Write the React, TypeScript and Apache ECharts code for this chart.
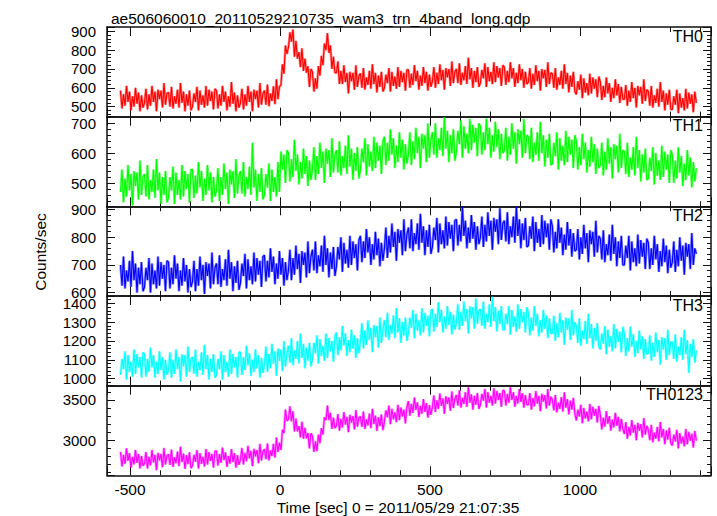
import React, { useEffect, useRef } from 'react';
import * as echarts from 'echarts';

const TITLE = 'ae506060010_20110529210735_wam3_trn_4band_long.qdp';
const X_LABEL = 'Time [sec] 0 = 2011/05/29 21:07:35';
const Y_LABEL = 'Counts/sec';
const BANDS = ['TH0', 'TH1', 'TH2', 'TH3', 'TH0123'];
const COLORS = ['#ff0000', '#00ff00', '#0000ff', '#00ffff', '#ff00ff'];

// time grid of the light curve bins (seconds from 2011/05/29 21:07:35)
const T_START = -532;
const T_STEP = 5;

const X_RANGE = [-577, 1437];
const X_TICK = 500;

// [min, max, major tick step] of each panel's count-rate axis
const Y_RANGES = [
  [447, 923, 100],
  [422, 722, 100],
  [588, 912, 100],
  [963, 1439, 100],
  [2566, 3676, 500],
];

const TH0 = [
  585, 490, 565, 505, 610, 525, 580, 480, 555, 500, 600, 515, 575, 475, 560, 495,
  520, 595, 485, 565, 505, 610, 525, 580, 475, 590, 540, 585, 495, 625, 510, 570,
  575, 500, 605, 490, 555, 515, 590, 495, 625, 520, 580, 475, 565, 505, 585, 480,
  500, 570, 525, 605, 480, 585, 510, 560, 495, 610, 505, 590, 530, 580, 485, 595,
  585, 490, 565, 505, 610, 525, 580, 480, 555, 500, 630, 515, 575, 475, 560, 495,
  520, 595, 485, 565, 505, 610, 525, 580, 475, 590, 540, 585, 495, 625, 510, 570,
  585, 510, 617, 502, 570, 530, 608, 513, 645, 540, 605, 615, 725, 675, 825, 780,
  815, 895, 845, 910, 765, 850, 755, 790, 710, 810, 690, 755, 680, 715, 605, 700,
  685, 580, 650, 595, 715, 665, 770, 720, 835, 800, 890, 785, 825, 700, 765, 680,
  680, 740, 620, 690, 620, 720, 630, 680, 570, 685, 635, 680, 590, 720, 605, 665,
  675, 600, 705, 590, 655, 615, 690, 595, 725, 620, 680, 575, 665, 605, 685, 580,
  600, 670, 625, 705, 580, 685, 610, 660, 595, 710, 605, 690, 630, 680, 585, 695,
  695, 600, 675, 615, 720, 635, 690, 590, 665, 610, 710, 625, 685, 585, 670, 605,
  635, 710, 600, 680, 620, 725, 640, 695, 590, 705, 655, 700, 610, 740, 625, 685,
  700, 625, 730, 615, 680, 640, 715, 620, 760, 645, 705, 600, 690, 630, 710, 605,
  625, 695, 650, 730, 605, 710, 635, 685, 620, 735, 630, 715, 655, 705, 610, 720,
  710, 615, 690, 630, 735, 650, 705, 605, 680, 625, 725, 640, 700, 600, 685, 620,
  630, 705, 595, 675, 615, 720, 635, 690, 585, 700, 650, 695, 605, 735, 620, 680,
  675, 600, 705, 590, 655, 615, 690, 595, 725, 620, 680, 575, 665, 605, 685, 580,
  565, 635, 590, 670, 545, 650, 575, 625, 560, 675, 570, 655, 595, 645, 550, 660,
  630, 535, 610, 550, 655, 570, 625, 525, 600, 545, 645, 560, 620, 520, 605, 540,
  540, 615, 505, 585, 525, 630, 545, 600, 495, 610, 560, 605, 515, 645, 530, 590,
  580, 505, 610, 495, 560, 520, 595, 500, 630, 525, 585, 480, 570, 510, 590, 485,
  485, 555, 510, 590, 465, 570, 495, 545, 480, 595, 490, 575, 515, 565, 470, 580,
  520,
];

const TH1 = [
  470, 545, 435, 515, 455, 560, 475, 530, 425, 540, 490, 535, 445, 575, 460, 520,
  530, 455, 560, 445, 510, 470, 545, 450, 580, 475, 535, 430, 520, 460, 540, 435,
  450, 520, 475, 555, 430, 535, 460, 510, 445, 560, 455, 540, 480, 530, 435, 545,
  545, 450, 525, 465, 570, 485, 540, 440, 515, 460, 560, 475, 535, 435, 520, 455,
  475, 550, 440, 520, 460, 565, 480, 535, 430, 545, 495, 540, 450, 580, 465, 525,
  540, 465, 570, 455, 520, 480, 555, 460, 635, 485, 545, 440, 530, 470, 550, 445,
  460, 530, 485, 565, 440, 545, 470, 520, 455, 570, 470, 605, 545, 595, 500, 610,
  600, 505, 580, 520, 645, 540, 595, 495, 570, 515, 615, 530, 590, 490, 575, 510,
  545, 620, 510, 590, 530, 635, 550, 605, 500, 615, 565, 610, 520, 650, 535, 595,
  610, 535, 640, 525, 590, 550, 625, 530, 660, 555, 615, 510, 600, 540, 620, 515,
  545, 615, 570, 650, 525, 630, 555, 605, 540, 655, 550, 635, 575, 625, 530, 640,
  655, 560, 635, 575, 680, 595, 650, 550, 625, 570, 670, 585, 645, 545, 630, 565,
  595, 670, 560, 640, 580, 685, 600, 655, 550, 665, 615, 660, 570, 700, 585, 645,
  670, 595, 700, 585, 650, 610, 685, 590, 720, 615, 675, 570, 660, 600, 680, 575,
  605, 675, 630, 710, 585, 690, 615, 665, 600, 715, 610, 695, 635, 685, 590, 700,
  690, 595, 670, 610, 715, 630, 685, 585, 660, 605, 705, 620, 680, 580, 665, 600,
  610, 685, 575, 655, 595, 700, 615, 670, 565, 680, 630, 675, 585, 715, 600, 660,
  655, 580, 685, 570, 635, 595, 670, 575, 705, 600, 660, 555, 645, 585, 665, 560,
  565, 635, 590, 670, 545, 650, 575, 625, 560, 675, 570, 655, 595, 645, 550, 660,
  640, 545, 620, 560, 665, 580, 635, 535, 610, 555, 655, 570, 630, 530, 615, 550,
  560, 635, 525, 605, 545, 650, 565, 620, 515, 630, 580, 625, 535, 665, 550, 610,
  605, 530, 635, 520, 585, 545, 620, 525, 655, 550, 610, 505, 595, 535, 615, 510,
  515, 585, 540, 620, 495, 600, 525, 575, 510, 625, 520, 605, 545, 595, 500, 610,
  595, 500, 575, 515, 620, 535, 590, 490, 565, 510, 610, 525, 585, 485, 570, 505,
  550,
];

const TH2 = [
  700, 625, 730, 615, 680, 640, 715, 620, 750, 645, 705, 600, 690, 630, 710, 605,
  620, 690, 645, 725, 600, 705, 630, 680, 615, 730, 625, 710, 650, 700, 605, 715,
  710, 615, 690, 630, 735, 650, 705, 605, 680, 625, 725, 640, 700, 600, 685, 620,
  640, 715, 605, 685, 625, 730, 645, 700, 595, 710, 660, 705, 615, 745, 630, 690,
  705, 630, 735, 620, 685, 645, 720, 625, 755, 650, 710, 605, 695, 635, 715, 610,
  635, 705, 660, 740, 615, 720, 645, 695, 630, 745, 640, 725, 665, 715, 620, 730,
  735, 640, 715, 655, 760, 675, 730, 630, 705, 650, 750, 665, 725, 625, 710, 645,
  680, 755, 645, 725, 665, 770, 685, 740, 635, 750, 700, 745, 655, 785, 670, 730,
  755, 680, 785, 670, 735, 695, 770, 675, 805, 700, 760, 655, 745, 685, 765, 660,
  695, 765, 720, 800, 675, 780, 705, 755, 690, 805, 700, 785, 725, 775, 680, 790,
  805, 710, 785, 725, 830, 745, 800, 700, 775, 720, 820, 735, 795, 695, 780, 715,
  760, 835, 725, 805, 745, 850, 765, 820, 715, 830, 780, 825, 735, 865, 750, 810,
  835, 760, 865, 750, 815, 775, 850, 755, 885, 780, 840, 735, 825, 765, 845, 740,
  765, 835, 790, 870, 745, 850, 775, 825, 760, 875, 770, 855, 795, 845, 750, 860,
  865, 770, 845, 785, 910, 805, 860, 760, 835, 780, 880, 795, 855, 755, 840, 775,
  800, 875, 765, 845, 785, 890, 805, 860, 755, 870, 820, 865, 775, 905, 790, 850,
  860, 785, 890, 775, 840, 800, 875, 780, 910, 805, 865, 760, 850, 790, 870, 765,
  770, 840, 795, 875, 750, 855, 780, 830, 765, 880, 775, 860, 800, 850, 755, 865,
  840, 745, 820, 760, 865, 780, 835, 735, 810, 755, 855, 770, 830, 730, 815, 750,
  755, 830, 720, 800, 740, 845, 760, 815, 710, 825, 775, 820, 730, 860, 745, 805,
  795, 720, 825, 710, 775, 735, 810, 715, 845, 740, 800, 695, 785, 725, 805, 700,
  700, 770, 725, 805, 680, 785, 710, 760, 695, 810, 705, 790, 730, 780, 685, 795,
  780, 685, 760, 700, 805, 720, 775, 675, 750, 695, 795, 710, 770, 670, 755, 690,
  710, 785, 675, 755, 695, 800, 715, 770, 665, 780, 730, 775, 685, 815, 700, 760,
  740,
];

const TH3 = [
  1020, 1105, 1050, 1145, 995, 1125, 1035, 1090, 1010, 1155, 1025, 1130, 1060, 1115, 1005, 1140,
  1130, 1010, 1105, 1035, 1165, 1060, 1125, 1005, 1090, 1025, 1145, 1045, 1115, 995, 1100, 1020,
  1045, 1140, 1005, 1100, 1025, 1155, 1050, 1115, 985, 1130, 1065, 1125, 1010, 1170, 1035, 1105,
  1115, 1025, 1155, 1010, 1090, 1045, 1140, 1020, 1180, 1050, 1125, 995, 1105, 1035, 1130, 1005,
  1020, 1105, 1050, 1145, 995, 1125, 1035, 1090, 1010, 1155, 1025, 1130, 1060, 1115, 1005, 1140,
  1140, 1020, 1115, 1045, 1175, 1070, 1135, 1015, 1100, 1035, 1155, 1055, 1125, 1005, 1110, 1030,
  1075, 1170, 1035, 1130, 1055, 1185, 1080, 1145, 1015, 1160, 1095, 1155, 1040, 1200, 1065, 1135,
  1175, 1085, 1215, 1070, 1150, 1105, 1200, 1080, 1240, 1110, 1185, 1055, 1165, 1095, 1190, 1065,
  1105, 1190, 1135, 1230, 1080, 1210, 1120, 1175, 1095, 1240, 1110, 1215, 1145, 1200, 1090, 1225,
  1245, 1125, 1220, 1150, 1280, 1175, 1240, 1120, 1205, 1140, 1260, 1160, 1230, 1110, 1215, 1135,
  1200, 1295, 1160, 1255, 1180, 1310, 1205, 1270, 1140, 1285, 1220, 1280, 1165, 1325, 1190, 1260,
  1310, 1220, 1350, 1205, 1285, 1240, 1335, 1215, 1375, 1245, 1320, 1190, 1300, 1230, 1325, 1200,
  1240, 1325, 1270, 1365, 1215, 1345, 1255, 1310, 1230, 1375, 1245, 1350, 1280, 1335, 1225, 1360,
  1370, 1250, 1345, 1275, 1405, 1300, 1365, 1245, 1330, 1265, 1385, 1285, 1355, 1235, 1340, 1260,
  1300, 1395, 1260, 1355, 1280, 1410, 1305, 1370, 1240, 1385, 1320, 1380, 1265, 1425, 1290, 1360,
  1370, 1280, 1410, 1265, 1345, 1300, 1395, 1275, 1435, 1305, 1380, 1250, 1360, 1290, 1385, 1260,
  1260, 1345, 1290, 1385, 1235, 1365, 1275, 1330, 1250, 1395, 1265, 1370, 1300, 1355, 1245, 1380,
  1350, 1230, 1325, 1255, 1385, 1280, 1345, 1225, 1310, 1245, 1365, 1265, 1335, 1215, 1320, 1240,
  1240, 1335, 1200, 1295, 1220, 1350, 1245, 1310, 1180, 1325, 1260, 1320, 1205, 1365, 1230, 1300,
  1280, 1190, 1320, 1175, 1255, 1210, 1305, 1185, 1345, 1215, 1290, 1160, 1270, 1200, 1295, 1170,
  1155, 1240, 1185, 1280, 1130, 1260, 1170, 1225, 1145, 1290, 1160, 1265, 1195, 1250, 1140, 1275,
  1240, 1120, 1215, 1145, 1275, 1170, 1235, 1115, 1200, 1135, 1255, 1155, 1225, 1105, 1210, 1130,
  1135, 1230, 1095, 1190, 1115, 1245, 1140, 1205, 1075, 1220, 1155, 1215, 1100, 1260, 1125, 1195,
  1195, 1105, 1235, 1090, 1170, 1125, 1220, 1100, 1260, 1130, 1205, 1030, 1185, 1115, 1210, 1085,
  1150,
];

const TH0123 = [
  2855, 2675, 2820, 2710, 2900, 2745, 2840, 2660, 2795, 2700, 2880, 2720, 2830, 2650, 2805, 2685,
  2710, 2855, 2650, 2795, 2690, 2880, 2725, 2820, 2630, 2845, 2750, 2830, 2665, 2905, 2700, 2810,
  2825, 2695, 2885, 2670, 2790, 2715, 2860, 2680, 2920, 2730, 2835, 2645, 2815, 2705, 2850, 2655,
  2685, 2820, 2735, 2880, 2650, 2840, 2710, 2795, 2675, 2890, 2700, 2855, 2745, 2830, 2660, 2865,
  2865, 2685, 2830, 2720, 2910, 2755, 2850, 2670, 2805, 2710, 2890, 2730, 2840, 2660, 2815, 2695,
  2760, 2905, 2700, 2845, 2740, 2930, 2775, 2870, 2680, 2895, 2800, 2880, 2715, 2955, 2750, 2860,
  2890, 2765, 2960, 2750, 2875, 2805, 2955, 2785, 3035, 2855, 2970, 2880, 3130, 3090, 3380, 3240,
  3260, 3420, 3235, 3360, 3110, 3270, 3110, 3175, 3035, 3230, 3020, 3155, 3025, 3090, 2900, 3085,
  3055, 2855, 2985, 2865, 3070, 2965, 3150, 3070, 3285, 3250, 3430, 3250, 3340, 3140, 3280, 3150,
  3180, 3325, 3120, 3265, 3160, 3350, 3195, 3290, 3100, 3315, 3220, 3300, 3135, 3375, 3170, 3280,
  3295, 3165, 3355, 3140, 3260, 3185, 3330, 3150, 3390, 3200, 3305, 3115, 3285, 3175, 3320, 3125,
  3235, 3370, 3285, 3430, 3200, 3390, 3260, 3345, 3225, 3440, 3250, 3405, 3295, 3380, 3210, 3415,
  3485, 3305, 3450, 3340, 3530, 3375, 3470, 3290, 3425, 3330, 3510, 3350, 3460, 3280, 3435, 3315,
  3410, 3555, 3350, 3495, 3390, 3580, 3425, 3520, 3330, 3545, 3450, 3530, 3365, 3605, 3400, 3510,
  3560, 3430, 3620, 3405, 3525, 3450, 3595, 3415, 3655, 3465, 3570, 3380, 3550, 3440, 3585, 3390,
  3440, 3575, 3490, 3635, 3405, 3595, 3465, 3550, 3430, 3645, 3455, 3610, 3500, 3585, 3415, 3620,
  3610, 3430, 3575, 3465, 3655, 3500, 3595, 3415, 3550, 3455, 3635, 3475, 3585, 3405, 3560, 3440,
  3440, 3585, 3380, 3525, 3420, 3610, 3455, 3550, 3360, 3575, 3480, 3560, 3395, 3635, 3430, 3540,
  3500, 3370, 3560, 3345, 3465, 3390, 3535, 3355, 3595, 3405, 3510, 3320, 3490, 3380, 3525, 3330,
  3245, 3380, 3295, 3440, 3210, 3400, 3270, 3355, 3235, 3450, 3260, 3415, 3305, 3390, 3220, 3425,
  3315, 3135, 3280, 3170, 3360, 3205, 3300, 3120, 3255, 3160, 3340, 3180, 3290, 3110, 3265, 3145,
  3080, 3225, 3020, 3165, 3060, 3250, 3095, 3190, 3000, 3215, 3120, 3200, 3035, 3275, 3070, 3180,
  3130, 3000, 3190, 2975, 3095, 3020, 3165, 2985, 3225, 3035, 3140, 2950, 3120, 3010, 3155, 2960,
  2935, 3070, 2985, 3130, 2900, 3090, 2960, 3045, 2925, 3140, 2950, 3105, 2995, 3080, 2910, 3115,
  2995,
];

const SERIES = [TH0, TH1, TH2, TH3, TH0123];

const FONT = '"Liberation Sans", Arial, Helvetica, sans-serif';
const PANEL_TOPS = [27, 116.7, 206.3, 296, 385.7];
const PANEL_H = 89.6;

export default function App() {
  const ref = useRef<HTMLDivElement>(null);
  useEffect(() => {
    if (!ref.current) return;
    const chart = echarts.init(ref.current, undefined, { renderer: 'svg' });
    const axisLine = { show: true, onZero: false, lineStyle: { color: '#111', width: 1.5 } };
    const grids = PANEL_TOPS.map((t) => ({ left: 107, right: 6, top: t, height: PANEL_H, show: false }));
    const xAxes: any[] = [];
    const yAxes: any[] = [];
    SERIES.forEach((_, i) => {
      ['bottom', 'top'].forEach((pos) => {
        xAxes.push({
          gridIndex: i,
          type: 'value',
          position: pos,
          min: X_RANGE[0],
          max: X_RANGE[1],
          minInterval: X_TICK,
          maxInterval: X_TICK,
          axisLine,
          axisTick: { show: true, inside: true, length: 9, lineStyle: { color: '#111', width: 1 } },
          minorTick: { show: true, splitNumber: 5, length: 5, lineStyle: { color: '#111', width: 1 } },
          splitLine: { show: false },
          minorSplitLine: { show: false },
          axisLabel: {
            show: pos === 'bottom' && i === SERIES.length - 1,
            fontSize: 15.5,
            color: '#000',
            fontFamily: FONT,
            margin: 6,
            formatter: (v: number) => (v % X_TICK === 0 ? String(v) : ''),
          },
        });
      });
      const [ymin, ymax, ystep] = Y_RANGES[i];
      ['left', 'right'].forEach((pos) => {
        yAxes.push({
          gridIndex: i,
          type: 'value',
          position: pos,
          min: ymin,
          max: ymax,
          minInterval: ystep,
          maxInterval: ystep,
          axisLine,
          axisTick: { show: true, inside: true, length: 8, lineStyle: { color: '#111', width: 1 } },
          minorTick: { show: true, splitNumber: 5, length: 4, lineStyle: { color: '#111', width: 1 } },
          splitLine: { show: false },
          minorSplitLine: { show: false },
          axisLabel: {
            show: pos === 'left',
            fontSize: 15,
            lineHeight: 10,
            color: '#000',
            fontFamily: FONT,
            margin: 11,
            formatter: (v: number) => (v % ystep === 0 ? String(v) : ''),
          },
        });
      });
    });
    const series: any[] = [];
    SERIES.forEach((vals, i) => {
      const data = vals.map((v, j) => [T_START + j * T_STEP, v]);
      // lighter, wider stroke under the light curve (the error-bar halo)
      series.push({
        type: 'line',
        name: BANDS[i] + ' err',
        xAxisIndex: i * 2,
        yAxisIndex: i * 2,
        data,
        symbol: 'none',
        silent: true,
        lineStyle: { color: COLORS[i], width: 2.6, opacity: 0.45 },
        clip: true,
        z: 1,
      });
      series.push({
        type: 'line',
        name: BANDS[i],
        xAxisIndex: i * 2,
        yAxisIndex: i * 2,
        data,
        symbol: 'none',
        lineStyle: { color: COLORS[i], width: 1.1 },
        itemStyle: { color: COLORS[i] },
        clip: true,
        z: 2,
      });
    });
    const graphic: any[] = BANDS.map((b, i) => ({
      type: 'text',
      right: 14,
      top: PANEL_TOPS[i] + 1,
      style: { text: b, fontSize: 16, fill: '#000', fontFamily: FONT },
    }));
    graphic.push({
      type: 'text',
      x: 40,
      y: 252,
      rotation: Math.PI / 2,
      style: { text: Y_LABEL, fontSize: 15.5, fill: '#000', fontFamily: FONT, align: 'center', verticalAlign: 'middle' },
    });
    graphic.push({
      type: 'text',
      x: 398,
      y: 507,
      style: { text: X_LABEL, fontSize: 15.5, fill: '#000', fontFamily: FONT, align: 'center', verticalAlign: 'middle' },
    });
    chart.setOption({
      animation: false,
      backgroundColor: '#fff',
      title: {
        text: TITLE,
        left: 106,
        top: 5,
        textStyle: { fontSize: 15.5, fontWeight: 'normal', color: '#000', fontFamily: FONT },
      },
      grid: grids,
      xAxis: xAxes,
      yAxis: yAxes,
      series,
      graphic,
    });
    return () => chart.dispose();
  }, []);
  return (
    <div
      ref={ref}
      style={{ position: 'fixed', left: 0, top: 0, width: 717, height: 516, background: '#fff' }}
    />
  );
}
